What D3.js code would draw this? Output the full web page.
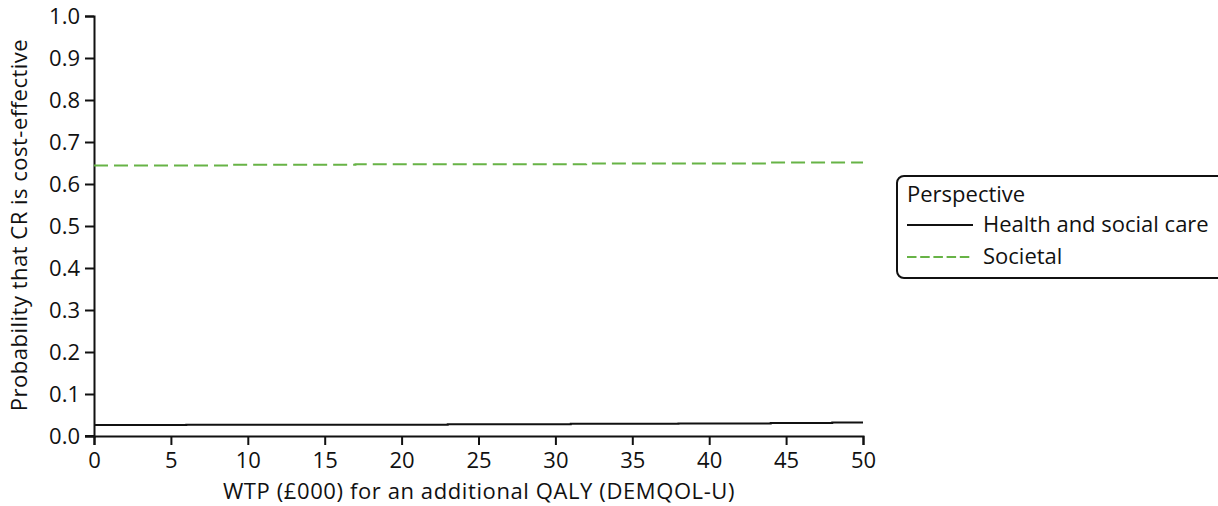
<!DOCTYPE html>
<html><head><meta charset="utf-8">
<script src="https://cdn.jsdelivr.net/npm/d3@7"></script>
<style>
body{margin:0;background:#fff;}
svg text{font-family:"Open Sans",sans-serif;fill:#111;}
</style></head>
<body><svg id="c" width="1218" height="506"></svg>
<script>
const wtp = [0,1,2,3,4,5,6,7,8,9,10,11,12,13,14,15,16,17,18,19,20,21,22,23,24,25,26,27,28,29,30,31,32,33,34,35,36,37,38,39,40,41,42,43,44,45,46,47,48,49,50];
const healthSocialCare = [0.026,0.026,0.026,0.026,0.026,0.026,
  0.027,0.027,0.027,0.027,0.027,0.027,0.027,0.027,0.027,0.027,0.027,0.027,0.027,0.027,0.027,0.027,0.027,
  0.028,0.028,0.028,0.028,0.028,0.028,0.028,0.028,
  0.029,0.029,0.029,0.029,0.029,0.029,0.029,
  0.030,0.030,0.030,0.030,0.030,0.030,
  0.031,0.031,0.031,0.031,
  0.032,0.032,0.032];
const societal = [0.644,0.644,0.644,0.644,0.644,0.644,0.644,0.644,0.644,
  0.646,0.646,0.646,0.646,0.646,0.646,0.646,0.646,
  0.647,0.647,0.647,0.647,0.647,0.647,0.647,0.647,0.647,0.647,0.647,0.647,0.647,0.647,0.647,
  0.649,0.649,0.649,0.649,0.649,0.649,0.649,0.649,0.649,0.649,0.649,0.649,
  0.651,0.651,0.651,0.651,0.651,0.651,0.651];
const xTicks = [0,5,10,15,20,25,30,35,40,45,50];
const yTicks = [0,0.1,0.2,0.3,0.4,0.5,0.6,0.7,0.8,0.9,1.0];
const seriesNames = ["Health and social care","Societal"];
const legendTitle = "Perspective";
const xTitle = "WTP (£000) for an additional QALY (DEMQOL-U)";
const yTitle = "Probability that CR is cost-effective";

const svg = d3.select("#c");
const x = d3.scaleLinear().domain([0,50]).range([94,863]);
const y = d3.scaleLinear().domain([0,1]).range([436,16]);
const fs = 22;

const xa = svg.append("g").attr("transform","translate(0,436)")
  .call(d3.axisBottom(x).tickValues(xTicks).tickFormat(d3.format("d")).tickSizeOuter(0).tickSize(9).tickPadding(7));
const ya = svg.append("g").attr("transform","translate(94,0)")
  .call(d3.axisLeft(y).tickValues(yTicks).tickFormat(d3.format(".1f")).tickSizeOuter(0).tickSize(9).tickPadding(5));
[xa,ya].forEach(a=>{
  a.select(".domain").attr("stroke","#111").attr("stroke-width",2);
  a.selectAll(".tick line").attr("stroke","#111").attr("stroke-width",2);
  a.selectAll(".tick text").attr("font-size",fs).attr("font-family","Open Sans").attr("fill","#111");
});
svg.append("line").attr("x1",85).attr("x2",94).attr("y1",436).attr("y2",436).attr("stroke","#111").attr("stroke-width",2);

const line = d3.line().x((d,i)=>x(wtp[i])).y(d=>y(d)).curve(d3.curveStepAfter);
svg.append("path").datum(healthSocialCare).attr("d",line).attr("fill","none").attr("stroke","#111").attr("stroke-width",2);
svg.append("path").datum(societal).attr("d",line).attr("fill","none").attr("stroke","#67b346").attr("stroke-width",2).attr("stroke-dasharray","14,6");

svg.append("text").attr("x",479).attr("y",499).attr("text-anchor","middle").attr("font-size",fs).attr("letter-spacing",0.6).text(xTitle);
svg.append("text").attr("transform","translate(27,225) rotate(-90)").attr("text-anchor","middle").attr("font-size",fs).attr("letter-spacing",0.5).text(yTitle);

const lg = svg.append("g");
lg.append("rect").attr("x",897).attr("y",176).attr("width",340).attr("height",102).attr("rx",7).attr("fill","#fff").attr("stroke","#111").attr("stroke-width",2);
lg.append("text").attr("x",907).attr("y",202).attr("font-size",fs).text(legendTitle);
const lgColors = ["#111","#67b346"], lgDash = [null,"9.5,3.7"];
seriesNames.forEach((n,i)=>{
  const yy = 225 + i*32;
  lg.append("line").attr("x1",907).attr("x2",973).attr("y1",yy).attr("y2",yy).attr("stroke",lgColors[i]).attr("stroke-width",2).attr("stroke-dasharray",lgDash[i]);
  lg.append("text").attr("x",983).attr("y",yy+7).attr("font-size",fs).text(n);
});
</script></body></html>
